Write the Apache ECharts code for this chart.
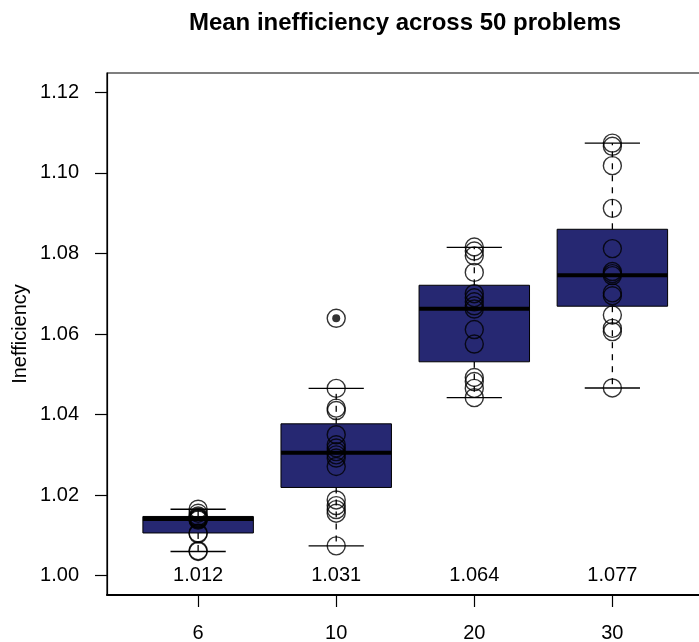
<!DOCTYPE html>
<html>
<head>
<meta charset="utf-8">
<script src="https://cdn.jsdelivr.net/npm/echarts@6/dist/echarts.min.js"></script>
<style>
  html, body { margin: 0; padding: 0; background: #ffffff; }
  #chart { width: 699px; height: 642px; }
</style>
</head>
<body>
<div id="chart"></div>
<script>
// Problem sizes (one box per size)
const groups = ['6', '10', '20', '30'];

// Box statistics per group: whisker ends, hinges, median
const boxMin    = [1.0060, 1.0074, 1.0442, 1.0466];
const boxQ1     = [1.0106, 1.0219, 1.0531, 1.0669];
const boxMedian = [1.0141, 1.0305, 1.0663, 1.0746];
const boxQ3     = [1.0147, 1.0377, 1.0721, 1.0860];
const boxMax    = [1.0165, 1.0465, 1.0815, 1.1074];

// Values beyond the whiskers, per group
const outliers = [[], [1.0639], [], []];

// Mean inefficiency per group (printed under each box)
const means = [1.012, 1.031, 1.064, 1.077];

// Individual observations per group
const pointsG6  = [1.0165, 1.0155, 1.0148, 1.0145, 1.0143, 1.0141, 1.0140, 1.0138, 1.0106, 1.0104, 1.0062, 1.0060];
const pointsG10 = [1.0639, 1.0465, 1.0416, 1.0410, 1.0350, 1.0325, 1.0317, 1.0308, 1.0300, 1.0292, 1.0271, 1.0188, 1.0174, 1.0164, 1.0155, 1.0074];
const pointsG20 = [1.0816, 1.0806, 1.0794, 1.0753, 1.0700, 1.0690, 1.0680, 1.0670, 1.0662, 1.0611, 1.0575, 1.0492, 1.0482, 1.0465, 1.0442];
const pointsG30 = [1.1074, 1.1066, 1.1018, 1.0912, 1.0812, 1.0755, 1.0750, 1.0745, 1.0702, 1.0695, 1.0647, 1.0614, 1.0606, 1.0466];

// Axis ticks
const yTicks = [1.00, 1.02, 1.04, 1.06, 1.08, 1.10, 1.12];
const xTicks = [1, 2, 3, 4];

const FONT = "'Liberation Sans', Arial, Helvetica, sans-serif";
const BOX_FILL = '#262872';

const pointGroups = [pointsG6, pointsG10, pointsG20, pointsG30];
const pointData = [];
pointGroups.forEach((arr, gi) => arr.forEach(v => pointData.push([gi + 1, v])));
const outlierData = [];
outliers.forEach((arr, gi) => arr.forEach(v => outlierData.push([gi + 1, v])));
const boxData = groups.map((g, i) => [i + 1, boxMin[i], boxQ1[i], boxMedian[i], boxQ3[i], boxMax[i]]);

function renderBox(params, api) {
  const x = api.value(0);
  const pMin = api.coord([x, api.value(1)]);
  const pQ1  = api.coord([x, api.value(2)]);
  const pMed = api.coord([x, api.value(3)]);
  const pQ3  = api.coord([x, api.value(4)]);
  const pMax = api.coord([x, api.value(5)]);
  const halfBox = api.size([0.4, 0])[0];
  const halfCap = api.size([0.2, 0])[0];
  const cx = pMed[0];
  const whisker = { stroke: '#000', lineWidth: 1.3, lineDash: [6, 6] };
  const solid = { stroke: '#000', lineWidth: 1.4 };
  const meanPos = api.coord([x, yTicks[0]]);
  return {
    type: 'group',
    children: [
      { type: 'line', shape: { x1: cx, y1: pQ3[1], x2: cx, y2: pMax[1] }, style: whisker },
      { type: 'line', shape: { x1: cx, y1: pQ1[1], x2: cx, y2: pMin[1] }, style: whisker },
      { type: 'line', shape: { x1: cx - halfCap, y1: pMax[1], x2: cx + halfCap, y2: pMax[1] }, style: solid },
      { type: 'line', shape: { x1: cx - halfCap, y1: pMin[1], x2: cx + halfCap, y2: pMin[1] }, style: solid },
      { type: 'rect', shape: { x: cx - halfBox, y: pQ3[1], width: halfBox * 2, height: pQ1[1] - pQ3[1] },
        style: { fill: BOX_FILL, stroke: '#000', lineWidth: 1 } },
      { type: 'line', shape: { x1: cx - halfBox, y1: pMed[1], x2: cx + halfBox, y2: pMed[1] },
        style: { stroke: '#000', lineWidth: 4 } },
      { type: 'text', x: meanPos[0], y: meanPos[1],
        style: { text: means[params.dataIndex].toFixed(3), fill: '#000', font: '20px ' + FONT,
                 align: 'center', verticalAlign: 'middle' } }
    ]
  };
}

const chart = echarts.init(document.getElementById('chart'), null, { renderer: 'canvas' });
chart.setOption({
  animation: false,
  backgroundColor: '#ffffff',
  textStyle: { fontFamily: FONT },
  grid: {
    left: 107, top: 73, width: 596.5, height: 522,
    outerBoundsMode: 'none', containLabel: false,
    show: true, borderColor: '#000', borderWidth: 1.2, backgroundColor: 'transparent'
  },
  graphic: [
    { type: 'text', x: 405, y: 23,
      style: { text: 'Mean inefficiency across 50 problems', font: 'bold 24px ' + FONT, fill: '#000',
               align: 'center', verticalAlign: 'middle' } },
    { type: 'text', x: 20, y: 334, rotation: Math.PI / 2,
      style: { text: 'Inefficiency', font: '20px ' + FONT, fill: '#000',
               align: 'center', verticalAlign: 'middle' } }
  ],
  xAxis: {
    type: 'value', min: 0.34, max: 4.66,
    splitLine: { show: false },
    axisLine: { show: true, lineStyle: { color: '#000', width: 2 } },
    axisTick: { show: true, customValues: xTicks, length: 12, lineStyle: { color: '#000', width: 1.2 } },
    axisLabel: { show: true, customValues: xTicks, margin: 28, fontSize: 20, color: '#000', fontFamily: FONT,
                 formatter: v => groups[Math.round(v) - 1] }
  },
  yAxis: {
    type: 'value', min: 0.9952, max: 1.1248,
    splitLine: { show: false },
    axisLine: { show: true, lineStyle: { color: '#000', width: 1.2 } },
    axisTick: { show: true, customValues: yTicks, length: 12, lineStyle: { color: '#000', width: 1.2 } },
    axisLabel: { show: true, customValues: yTicks, margin: 28, fontSize: 20, color: '#000', fontFamily: FONT,
                 formatter: v => v.toFixed(2) }
  },
  series: [
    {
      type: 'custom', name: 'box', z: 2,
      renderItem: renderBox,
      encode: { x: 0, y: [1, 2, 3, 4, 5] },
      data: boxData,
      silent: true
    },
    {
      type: 'scatter', name: 'outliers', z: 3,
      symbol: 'circle', symbolSize: 8,
      itemStyle: { color: '#000' },
      data: outlierData,
      silent: true
    },
    {
      type: 'scatter', name: 'observations', z: 4,
      symbol: 'circle', symbolSize: 18,
      itemStyle: { color: 'rgba(0,0,0,0)', borderColor: '#000', borderWidth: 1.4 },
      data: pointData,
      silent: true
    }
  ]
});
</script>
</body>
</html>
